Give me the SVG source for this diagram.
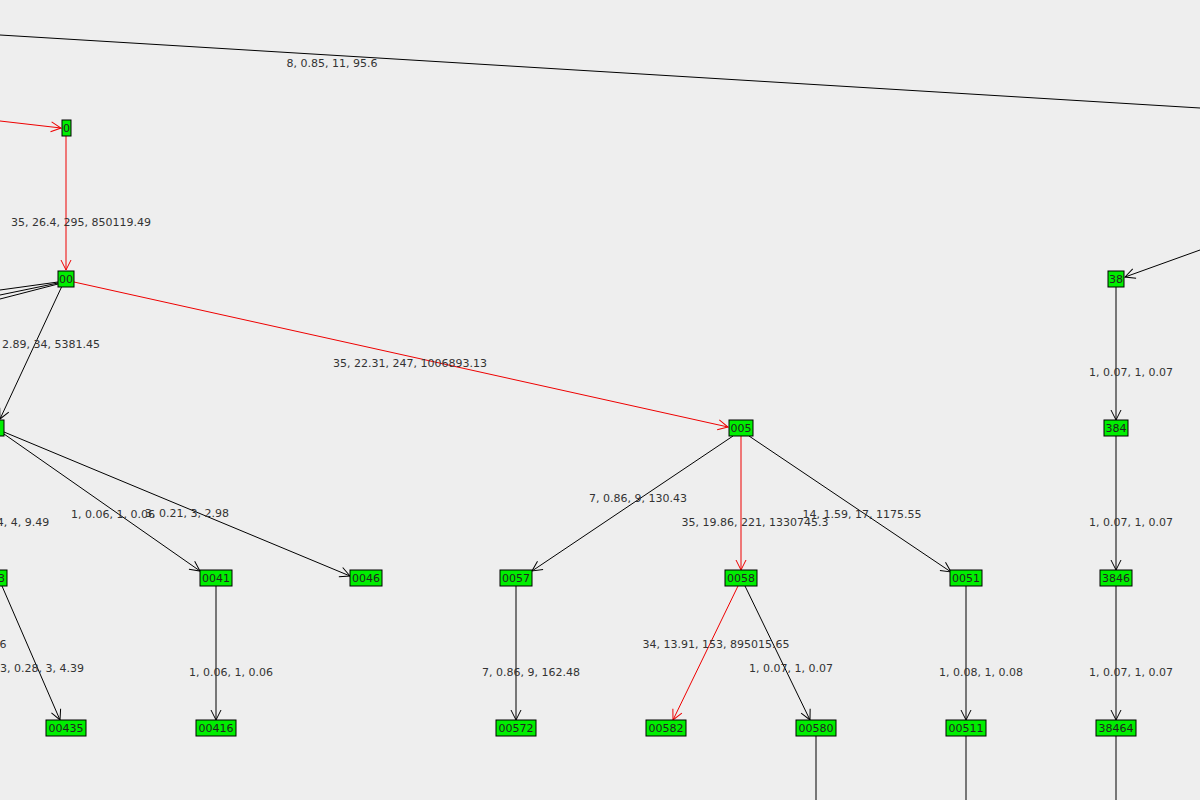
<svg xmlns="http://www.w3.org/2000/svg" width="1200" height="800" viewBox="0 0 1200 800">
<defs>
<marker id="ab" markerWidth="12" markerHeight="12" refX="11" refY="6" orient="auto" markerUnits="userSpaceOnUse"><path d="M1,1 L11,6 L1,11" fill="none" stroke="#000" stroke-width="1"/></marker>
<marker id="ar" markerWidth="12" markerHeight="12" refX="11" refY="6" orient="auto" markerUnits="userSpaceOnUse"><path d="M1,1 L11,6 L1,11" fill="none" stroke="#e00" stroke-width="1"/></marker>
</defs>
<style>
.n rect{fill:#00ee00;stroke:#000;stroke-width:1}
.n text{font-family:"DejaVu Sans",sans-serif;font-size:11px;fill:#222;text-anchor:middle}
.e line{stroke:#000;stroke-width:1;fill:none}
.e .r{stroke:#e00}
.l{font-family:"DejaVu Sans",sans-serif;font-size:11px;fill:#333;text-anchor:middle}
</style>
<rect width="1200" height="800" fill="#eeeeee"/>
<g id="connectors" class="e">
<line x1="0" y1="35" x2="1200" y2="108"/>
<line class="r" x1="0" y1="121" x2="61" y2="128" marker-end="url(#ar)"/>
<line class="r" x1="66" y1="136" x2="66" y2="270" marker-end="url(#ar)"/>
<line x1="58" y1="282" x2="0" y2="290"/>
<line x1="58" y1="283" x2="0" y2="295"/>
<line x1="58" y1="284" x2="0" y2="299"/>
<line x1="62" y1="286" x2="0" y2="419" marker-end="url(#ab)"/>
<line class="r" x1="74" y1="282" x2="728" y2="427" marker-end="url(#ar)"/>
<line x1="4" y1="434" x2="200" y2="571" marker-end="url(#ab)"/>
<line x1="4" y1="432" x2="350" y2="576" marker-end="url(#ab)"/>
<line x1="2" y1="586" x2="60" y2="720" marker-end="url(#ab)"/>
<line x1="216" y1="586" x2="216" y2="720" marker-end="url(#ab)"/>
<line x1="733" y1="436" x2="532" y2="571" marker-end="url(#ab)"/>
<line class="r" x1="741" y1="436" x2="741" y2="570" marker-end="url(#ar)"/>
<line x1="749" y1="436" x2="951" y2="572" marker-end="url(#ab)"/>
<line x1="516" y1="586" x2="516" y2="720" marker-end="url(#ab)"/>
<line class="r" x1="738" y1="586" x2="673" y2="720" marker-end="url(#ar)"/>
<line x1="745" y1="586" x2="810" y2="720" marker-end="url(#ab)"/>
<line x1="966" y1="586" x2="966" y2="720" marker-end="url(#ab)"/>
<line x1="816" y1="736" x2="816" y2="800"/>
<line x1="966" y1="736" x2="966" y2="800"/>
<line x1="1116" y1="736" x2="1116" y2="800"/>
<line x1="1200" y1="250" x2="1125" y2="277" marker-end="url(#ab)"/>
<line x1="1116" y1="286" x2="1116" y2="420" marker-end="url(#ab)"/>
<line x1="1116" y1="436" x2="1116" y2="570" marker-end="url(#ab)"/>
<line x1="1116" y1="586" x2="1116" y2="720" marker-end="url(#ab)"/>
<text class="l" x="332" y="67">8, 0.85, 11, 95.6</text>
<text class="l" x="81" y="226">35, 26.4, 295, 850119.49</text>
<text class="l" x="51" y="348">2.89, 34, 5381.45</text>
<text class="l" x="410" y="367">35, 22.31, 247, 1006893.13</text>
<text class="l" x="23" y="526">4, 4, 9.49</text>
<text class="l" x="113" y="518">1, 0.06, 1, 0.06</text>
<text class="l" x="187" y="517">3, 0.21, 3, 2.98</text>
<text class="l" x="3" y="648">6</text>
<text class="l" x="42" y="672">3, 0.28, 3, 4.39</text>
<text class="l" x="231" y="676">1, 0.06, 1, 0.06</text>
<text class="l" x="638" y="502">7, 0.86, 9, 130.43</text>
<text class="l" x="755" y="526">35, 19.86, 221, 1330745.3</text>
<text class="l" x="862" y="518">14, 1.59, 17, 1175.55</text>
<text class="l" x="531" y="676">7, 0.86, 9, 162.48</text>
<text class="l" x="716" y="648">34, 13.91, 153, 895015.65</text>
<text class="l" x="791" y="672">1, 0.07, 1, 0.07</text>
<text class="l" x="981" y="676">1, 0.08, 1, 0.08</text>
<text class="l" x="1131" y="376">1, 0.07, 1, 0.07</text>
<text class="l" x="1131" y="526">1, 0.07, 1, 0.07</text>
<text class="l" x="1131" y="676">1, 0.07, 1, 0.07</text>
</g>
<g id="n0" class="n"><rect x="62" y="120" width="9" height="16"/><text x="66.5" y="132">0</text></g>
<g id="n00" class="n"><rect x="58" y="271" width="16" height="16"/><text x="66" y="283">00</text></g>
<g id="n004" class="n"><rect x="-28" y="420" width="32" height="16"/><text x="-12" y="432">004</text></g>
<g id="n0043" class="n"><rect x="-25" y="570" width="32" height="16"/><text x="-9" y="582">0043</text></g>
<g id="n005" class="n"><rect x="729" y="420" width="24" height="16"/><text x="741" y="432">005</text></g>
<g id="n0041" class="n"><rect x="200" y="570" width="32" height="16"/><text x="216" y="582">0041</text></g>
<g id="n0046" class="n"><rect x="350" y="570" width="32" height="16"/><text x="366" y="582">0046</text></g>
<g id="n0057" class="n"><rect x="500" y="570" width="32" height="16"/><text x="516" y="582">0057</text></g>
<g id="n0058" class="n"><rect x="725" y="570" width="32" height="16"/><text x="741" y="582">0058</text></g>
<g id="n0051" class="n"><rect x="950" y="570" width="32" height="16"/><text x="966" y="582">0051</text></g>
<g id="n38" class="n"><rect x="1108" y="271" width="16" height="16"/><text x="1116" y="283">38</text></g>
<g id="n384" class="n"><rect x="1104" y="420" width="24" height="16"/><text x="1116" y="432">384</text></g>
<g id="n3846" class="n"><rect x="1100" y="570" width="32" height="16"/><text x="1116" y="582">3846</text></g>
<g id="n00435" class="n"><rect x="46" y="720" width="40" height="16"/><text x="66" y="732">00435</text></g>
<g id="n00416" class="n"><rect x="196" y="720" width="40" height="16"/><text x="216" y="732">00416</text></g>
<g id="n00572" class="n"><rect x="496" y="720" width="40" height="16"/><text x="516" y="732">00572</text></g>
<g id="n00582" class="n"><rect x="646" y="720" width="40" height="16"/><text x="666" y="732">00582</text></g>
<g id="n00580" class="n"><rect x="796" y="720" width="40" height="16"/><text x="816" y="732">00580</text></g>
<g id="n00511" class="n"><rect x="946" y="720" width="40" height="16"/><text x="966" y="732">00511</text></g>
<g id="n38464" class="n"><rect x="1096" y="720" width="40" height="16"/><text x="1116" y="732">38464</text></g>
</svg>
